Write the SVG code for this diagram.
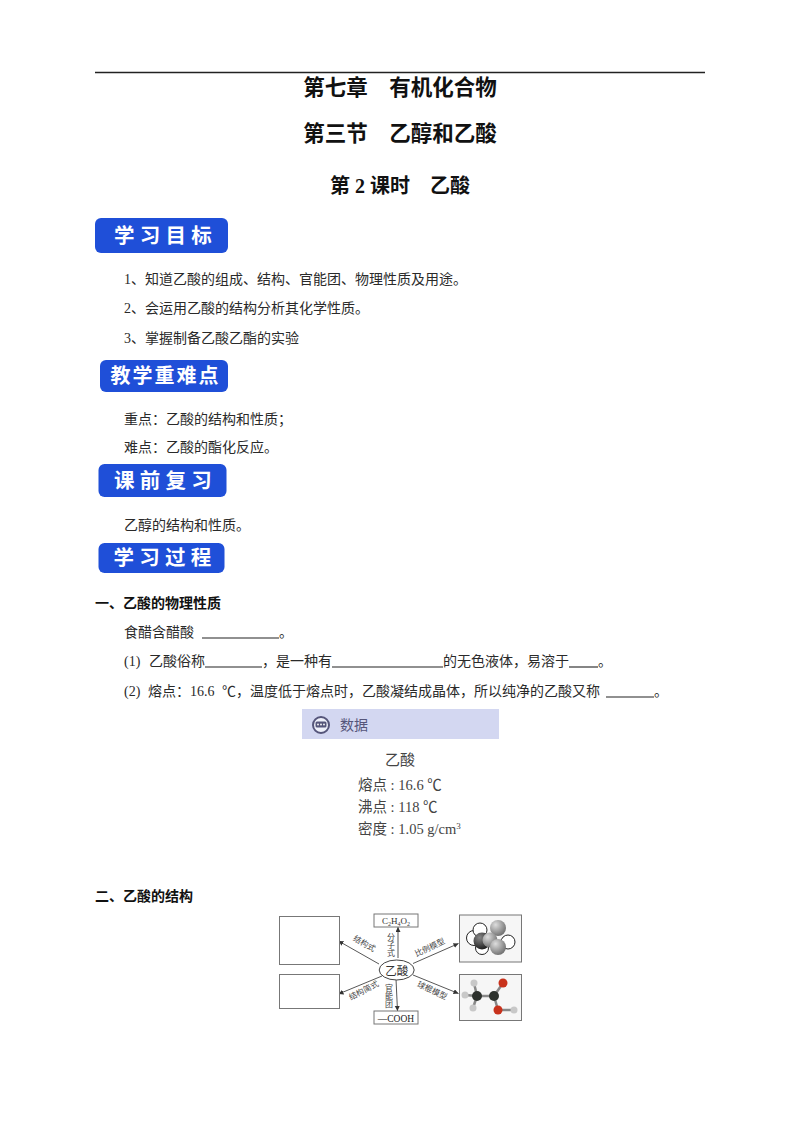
<svg xmlns="http://www.w3.org/2000/svg" width="800" height="1132" viewBox="0 0 800 1132">
<style>
text{font-family:"Liberation Serif","Noto Sans CJK SC",serif;fill:#1a1a1a}
.h1{font-size:21.5px;font-weight:700;text-anchor:middle;fill:#111}
.h2{font-size:20px;font-weight:700;text-anchor:middle;fill:#111}
.b{font-size:14px;fill:#2a2a2a}
.s{font-size:14px;font-weight:700;fill:#111}
.badge{fill:#1f4fd8}
.bt{font-family:"Noto Sans CJK SC",sans-serif;font-size:20.5px;font-weight:700;fill:#fff;text-anchor:middle;letter-spacing:5.3px}
.u{stroke:#222;stroke-width:1.1}
.box{fill:#fff;stroke:#777;stroke-width:1}
.pic{fill:#f6f6f6;stroke:#777;stroke-width:1}
.c{stroke:#444;stroke-width:.9;fill:none;marker-end:url(#ar)}
.l{font-family:"Noto Sans CJK SC",sans-serif;font-size:8px;fill:#444;text-anchor:middle}
.d{font-family:"Liberation Serif","Noto Sans CJK SC",serif;font-size:14.5px;fill:#444}
</style>
<defs>
<marker id="ar" markerWidth="6" markerHeight="6" refX="5" refY="2.5" orient="auto" markerUnits="userSpaceOnUse"><path d="M0 0L5 2.5L0 5z" fill="#333"/></marker>
<filter id="soft" x="-5%" y="-5%" width="110%" height="110%"><feGaussianBlur stdDeviation=".45"/></filter>
<radialGradient id="g1" cx=".35" cy=".3" r=".8"><stop offset="0" stop-color="#ddd"/><stop offset="1" stop-color="#666"/></radialGradient>
<radialGradient id="g2" cx=".35" cy=".3" r=".8"><stop offset="0" stop-color="#888"/><stop offset="1" stop-color="#111"/></radialGradient>
</defs>
<rect width="800" height="1132" fill="#fff"/>
<line x1="95" y1="72.5" x2="705" y2="72.5" stroke="#222" stroke-width="1.4"/>
<g id="titles">
<text class="h1" x="400" y="95">第七章　有机化合物</text>
<text class="h1" x="400" y="141">第三节　乙醇和乙酸</text>
<text class="h2" x="400" y="193">第 2 课时　乙酸</text>
</g>
<g id="badge-goals"><rect class="badge" x="95" y="218" width="133" height="35" rx="6"/><text class="bt" x="165.500" y="243">学习目标</text></g>
<g id="goals">
<text class="b" x="124" y="284">1、知道乙酸的组成、结构、官能团、物理性质及用途。</text>
<text class="b" x="124" y="313">2、会运用乙酸的结构分析其化学性质。</text>
<text class="b" x="124" y="343">3、掌握制备乙酸乙酯的实验</text>
</g>
<g id="badge-key"><rect class="badge" x="100" y="360" width="128" height="32" rx="6"/><text class="bt" style="font-size:20px;letter-spacing:2px" x="165.500" y="383">教学重难点</text></g>
<g id="key">
<text class="b" x="124" y="424">重点：乙酸的结构和性质；</text>
<text class="b" x="124" y="452">难点：乙酸的酯化反应。</text>
</g>
<g id="badge-review"><rect class="badge" x="98.500" y="464" width="128" height="33" rx="6"/><text class="bt" x="165.500" y="488">课前复习</text></g>
<text class="b" x="124" y="530">乙醇的结构和性质。</text>
<g id="badge-process"><rect class="badge" x="98.500" y="543" width="126" height="30" rx="6"/><text class="bt" x="165" y="565">学习过程</text></g>
<g id="section1">
<text class="s" x="95" y="608">一、乙酸的物理性质</text>
<text class="b" x="124" y="637">食醋含醋酸</text>
<line class="u" x1="202" y1="638" x2="279" y2="638"/>
<text class="b" x="279" y="637">。</text>
<text class="b" x="124" y="666">(1)</text>
<text class="b" x="149" y="666">乙酸俗称</text>
<line class="u" x1="205" y1="667" x2="262" y2="667"/>
<text class="b" x="262" y="666">，是一种有</text>
<line class="u" x1="332" y1="667" x2="443" y2="667"/>
<text class="b" x="443" y="666">的无色液体，易溶于</text>
<line class="u" x1="569" y1="667" x2="598" y2="667"/>
<text class="b" x="598" y="666">。</text>
<text class="b" x="124" y="696">(2)</text>
<text class="b" x="148" y="696">熔点：16.6</text>
<text class="b" x="222" y="696">℃，温度低于熔点时，乙酸凝结成晶体，所以纯净的乙酸又称</text>
<line class="u" x1="606" y1="697" x2="654" y2="697"/>
<text class="b" x="654" y="696">。</text>
</g>
<g id="data-panel">
<g filter="url(#soft)">
<rect x="302" y="709" width="197" height="30" fill="#d3d7f1"/>
<circle cx="321" cy="725" r="8" fill="#eef0fa" stroke="#55557a" stroke-width="2"/>
<rect x="315.500" y="721.500" width="11" height="6" rx="1.500" fill="#55557a"/>
<circle cx="318" cy="724.500" r=".9" fill="#fff"/><circle cx="321" cy="724.500" r=".9" fill="#fff"/><circle cx="324" cy="724.500" r=".9" fill="#fff"/>
</g>
<text x="340" y="730" font-size="14" style="fill:#55557a;font-family:'Noto Sans CJK SC',sans-serif">数据</text>
<text class="d" x="400" y="765" text-anchor="middle" style="font-size:15px">乙酸</text>
<text class="d" x="358" y="790">熔点 : 16.6 ℃</text>
<text class="d" x="358" y="812">沸点 : 118 ℃</text>
<text class="d" x="358" y="834">密度 : 1.05 g/cm<tspan font-size="9" dy="-5">3</tspan></text>
</g>
<text class="s" x="95" y="901">二、乙酸的结构</text>
<g id="connectors">
<line class="c" x1="398" y1="958" x2="398" y2="927"/>
<line class="c" x1="396" y1="979" x2="397.500" y2="1011"/>
<line class="c" x1="379" y1="964" x2="338.500" y2="941"/>
<line class="c" x1="382" y1="976" x2="338.500" y2="994"/>
<line class="c" x1="413" y1="963.500" x2="458.500" y2="943.500"/>
<line class="c" x1="413" y1="975" x2="458.500" y2="993.500"/>
</g>
<g id="node-structural"><rect class="box" x="279.500" y="916.500" width="60" height="48"/></g>
<g id="node-simple"><rect class="box" x="279.500" y="974.500" width="60" height="34"/></g>
<g id="node-formula"><rect class="box" x="374" y="914" width="44" height="13"/><text x="396" y="924" font-size="9" text-anchor="middle" style="fill:#333">C<tspan font-size="6" dy="1.500">2</tspan><tspan dy="-1.500">H</tspan><tspan font-size="6" dy="1.500">4</tspan><tspan dy="-1.500">O</tspan><tspan font-size="6" dy="1.500">2</tspan></text></g>
<g id="node-group"><rect class="box" x="374" y="1011" width="44" height="13"/><text x="396" y="1021.500" font-size="9.500" text-anchor="middle" style="fill:#222">—COOH</text></g>
<g id="node-center"><ellipse cx="396.700" cy="970" rx="17.500" ry="10" fill="#fff" stroke="#444" stroke-width="1"/><text x="396.700" y="974.500" font-size="11.500" text-anchor="middle" style="fill:#333">乙酸</text></g>
<g id="node-spacefill">
<rect class="pic" x="459.500" y="915" width="62" height="47"/>
<g filter="url(#soft)">
<circle cx="474" cy="938" r="7.500" fill="#fff" stroke="#222"/>
<circle cx="480" cy="930" r="7" fill="#fff" stroke="#222"/>
<circle cx="482" cy="948" r="6.500" fill="#fff" stroke="#222"/>
<circle cx="508" cy="942" r="7" fill="#fff" stroke="#222"/>
<circle cx="482" cy="941" r="8.500" fill="url(#g2)"/>
<circle cx="498" cy="928" r="8" fill="url(#g1)"/>
<circle cx="490" cy="940" r="7.500" fill="url(#g1)"/>
<circle cx="498" cy="947" r="8" fill="url(#g1)"/>
</g>
</g>
<g id="node-ballstick">
<rect class="pic" x="459.500" y="974.500" width="62" height="46"/>
<g filter="url(#soft)">
<g stroke="#888" stroke-width="2.500"><line x1="477" y1="996" x2="494" y2="996"/><line x1="477" y1="996" x2="465" y2="995"/><line x1="477" y1="996" x2="474" y2="983"/><line x1="477" y1="996" x2="473" y2="1008"/><line x1="494" y1="996" x2="503" y2="983"/><line x1="494" y1="996" x2="498" y2="1010"/><line x1="498" y1="1010" x2="514" y2="1010"/></g>
<circle cx="465" cy="995" r="3.500" fill="#c8c8c8"/>
<circle cx="474" cy="983" r="3.500" fill="#c8c8c8"/>
<circle cx="473" cy="1008" r="3.500" fill="#c8c8c8"/>
<circle cx="514" cy="1010" r="3.500" fill="#c8c8c8"/>
<circle cx="477" cy="996" r="5" fill="#2e332e"/>
<circle cx="494" cy="996" r="5" fill="#2e332e"/>
<circle cx="503" cy="983" r="4.500" fill="#c8301f"/>
<circle cx="498" cy="1010" r="4.500" fill="#c8301f"/>
</g>
</g>
<g id="connector-labels">
<text class="l" transform="translate(363 946) rotate(30)">结构式</text>
<text class="l" transform="translate(365 993) rotate(-27)">结构简式</text>
<text class="l" transform="translate(431 950) rotate(-25)">比例模型</text>
<text class="l" transform="translate(431 993) rotate(25)">球棍模型</text>
<text class="l" x="391" y="933" style="writing-mode:vertical-rl;text-anchor:start">分子式</text>
<text class="l" x="389" y="984" style="writing-mode:vertical-rl;text-anchor:start">官能团</text>
</g>
</svg>
